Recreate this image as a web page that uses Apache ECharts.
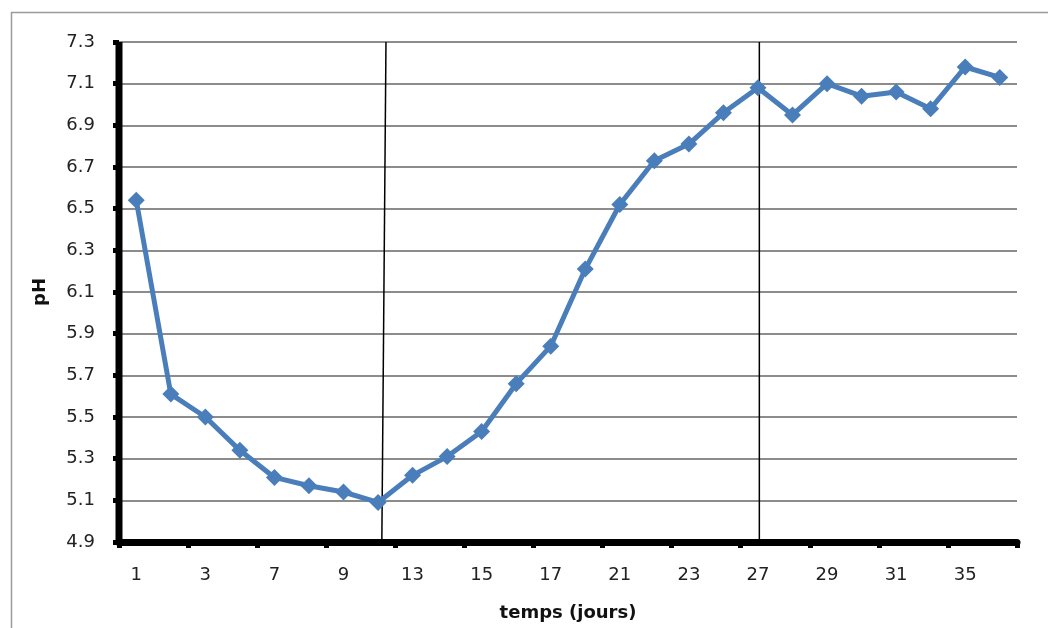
<!DOCTYPE html>
<html>
<head>
<meta charset="utf-8">
<script src="https://cdn.jsdelivr.net/npm/echarts@6/dist/echarts.min.js"></script>
<style>html,body{margin:0;padding:0;background:#fff}#c{width:1048px;height:628px}</style>
</head>
<body>
<div id="c"></div>
<script>
// Days (categories) — only every other one is labelled in the chart
const days = ['1','2','3','5','7','8','9','11','13','14','15','16','17','19','21','22','23','25','27','28','29','30','31','33','35','37'];
// pH values
const phValues = [6.54,5.61,5.50,5.34,5.21,5.17,5.14,5.09,5.22,5.31,5.43,5.66,5.84,6.21,6.52,6.73,6.81,6.96,7.08,6.95,7.10,7.04,7.06,6.98,7.18,7.13];
// Two hand-drawn separator lines: [category index position, pH] at top and bottom
const separatorA = [[7.23, 7.3], [7.11, 4.9]];
const separatorB = [[18.04, 7.3], [18.04, 4.9]];
const yMin = 4.9, yMax = 7.3, yStep = 0.2;

// hidden helper axis spans the category band edges: 0 .. days.length
const toBand = s => s.map(p => [p[0] + 0.5, p[1]]);

const chart = echarts.init(document.getElementById('c'));
const font = 'DejaVu Sans';
chart.setOption({
  animation: false,
  backgroundColor: '#fff',
  graphic: [{
    type: 'rect', left: 9, top: 10,
    shape: {width: 1200, height: 800},
    style: {fill: 'none', stroke: '#9a9a9a', lineWidth: 1.5},
    silent: true
  }],
  grid: {left: 119, right: 31, top: 42, bottom: 86},
  xAxis: [{
    type: 'category',
    data: days,
    boundaryGap: true,
    axisLine: {lineStyle: {color: '#000', width: 7}},
    axisTick: {show: true, interval: 1, length: 6, lineStyle: {color: '#000', width: 5}},
    axisLabel: {interval: 1, color: '#222', fontFamily: font, fontSize: 18, margin: 24},
    splitLine: {show: false},
    name: 'temps (jours)',
    nameLocation: 'middle',
    nameGap: 62,
    nameTextStyle: {color: '#111', fontFamily: font, fontSize: 18, fontWeight: 'bold'}
  }, {
    type: 'value', min: 0, max: days.length, show: false
  }],
  yAxis: {
    type: 'value',
    min: yMin, max: yMax, interval: yStep,
    axisLine: {show: false},
    axisTick: {show: true, length: 6, lineStyle: {color: '#000', width: 5}},
    axisLabel: {color: '#222', fontFamily: font, fontSize: 18, margin: 24,
      formatter: v => v.toFixed(1)},
    splitLine: {show: true, lineStyle: {color: '#8c8c8c', width: 2}},
    name: 'pH',
    nameLocation: 'middle',
    nameGap: 70,
    nameTextStyle: {color: '#111', fontFamily: font, fontSize: 18, fontWeight: 'bold'}
  },
  series: [{
    type: 'line', xAxisIndex: 1, data: [[0, yMin], [0, yMax]], symbol: 'none',
    lineStyle: {color: '#000', width: 7}, silent: true, clip: false, z: 4
  }, {
    type: 'line', xAxisIndex: 1, data: toBand(separatorA), symbol: 'none',
    lineStyle: {color: '#000', width: 1.5}, silent: true, z: 1
  }, {
    type: 'line', xAxisIndex: 1, data: toBand(separatorB), symbol: 'none',
    lineStyle: {color: '#000', width: 1.5}, silent: true, z: 1
  }, {
    type: 'line', xAxisIndex: 0, data: phValues,
    symbol: 'diamond', symbolSize: 17,
    itemStyle: {color: '#4a7ebb'},
    lineStyle: {color: '#4a7ebb', width: 5},
    z: 3
  }]
});
</script>
</body>
</html>
